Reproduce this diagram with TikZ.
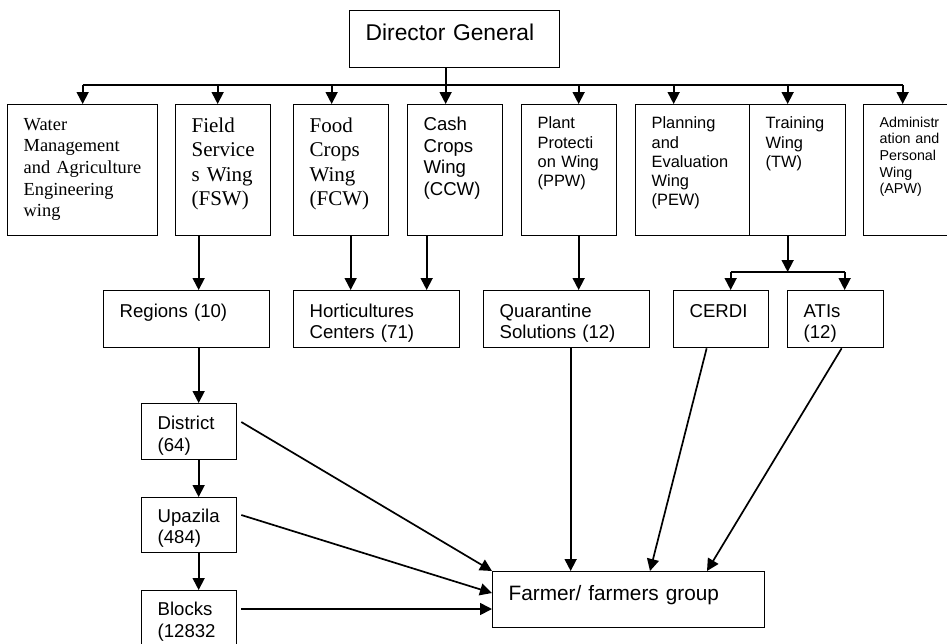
\documentclass[tikz,border=0pt]{standalone}
\usepackage{fontspec}
\setmainfont{Liberation Sans}
\newfontfamily\timesfont{Liberation Serif}
\usetikzlibrary{arrows.meta}
\hyphenpenalty=10000

\begin{document}
\begin{tikzpicture}[x=1pt, y=-1pt,
    wingbox/.style n args={3}{draw, line width=1.3pt, anchor=north west, inner xsep=16pt, inner ysep=0pt, align=left, text width=#1, text height=#2, text depth=#3},
    arr/.style={line width=1.7pt, -{Triangle[length=12pt,width=12pt]}},
    link/.style={line width=1.7pt},
    dgfont/.style={font=\fontsize{22.8pt}{26pt}\selectfont},
    serifsmall/.style={font=\timesfont\fontsize{18.4pt}{21.7pt}\selectfont},
    serifbig/.style={font=\timesfont\fontsize{21pt}{24.4pt}\selectfont},
    sansmid/.style={font=\fontsize{18.6pt}{21.5pt}\selectfont},
    sanssmall/.style={font=\fontsize{16.4pt}{19.2pt}\selectfont},
    sanstiny/.style={font=\fontsize{14.3pt}{16.6pt}\selectfont},
    sansbig/.style={font=\fontsize{20.8pt}{24pt}\selectfont}]
    \useasboundingbox (0,0) rectangle (947,643);
    \coordinate (bus) at (0,85);
    \coordinate (fork) at (0,272);
    % top
    \node[wingbox={178pt}{30pt}{27pt}, dgfont] (dg) at (349,10) {Director General};
    % wings
    \node[wingbox={118pt}{25.5pt}{105.5pt}, serifsmall] (water) at (7,104) {Water\\Management\\and Agriculture\\Engineering\\wing};
    \node[wingbox={63pt}{27.7pt}{103.3pt}, serifbig] (field) at (175,104) {Field\\Service\\s Wing\\(FSW)};
    \node[wingbox={63pt}{27.7pt}{103.3pt}, serifbig] (food) at (293,104) {Food\\Crops\\Wing\\(FCW)};
    \node[wingbox={63pt}{26pt}{105pt}, sansmid] (cash) at (407,104) {Cash\\Crops\\Wing\\(CCW)};
    \node[wingbox={63pt}{24.3pt}{106.7pt}, sanssmall] (plant) at (521,104) {Plant\\Protecti\\on Wing\\(PPW)};
    \node[wingbox={82pt}{24.3pt}{106.7pt}, sanssmall] (plan) at (635,104) {Planning\\and\\Evaluation\\Wing\\(PEW)};
    \node[wingbox={64pt}{24.3pt}{106.7pt}, sanssmall] (train) at (749,104) {Training\\Wing\\(TW)};
    \node[wingbox={63pt}{22.7pt}{108.3pt}, sanstiny] (admin) at (863,104) {Administr\\ation and\\Personal\\Wing\\(APW)};
    % second row
    \node[wingbox={134pt}{26.7pt}{30.3pt}, sansmid] (regions) at (103,290) {Regions (10)};
    \node[wingbox={134pt}{26.7pt}{30.3pt}, sansmid] (hort) at (293,290) {Horticultures\\Centers (71)};
    \node[wingbox={134pt}{26.7pt}{30.3pt}, sansmid] (quar) at (483,290) {Quarantine\\Solutions (12)};
    \node[wingbox={63pt}{26.7pt}{30.3pt}, sansmid] (cerdi) at (673,290) {CERDI};
    \node[wingbox={64pt}{26.7pt}{30.3pt}, sansmid] (atis) at (787,290) {ATIs\\(12)};
    % field levels
    \node[wingbox={63pt}{26pt}{30pt}, sansmid] (district) at (141,403) {District\\(64)};
    \node[wingbox={63pt}{24.7pt}{30.3pt}, sansmid] (upazila) at (141,497) {Upazila\\(484)};
    \node[wingbox={63pt}{25pt}{45pt}, sansmid] (blocks) at (141,590) {Blocks\\(12832};
    \node[wingbox={240pt}{29pt}{27pt}, sansbig] (farmer) at (492,571) {Farmer/ farmers group};
    % director general to wings
    \draw[link] (water.north |- bus) -- ([xshift=-8.5pt]admin.north |- bus);
    \draw[arr] ([xshift=-9.5pt]cash.north |- dg.south) -- ([xshift=-9.5pt]cash.north);
    \draw[arr] (water.north |- bus) -- (water.north);
    \draw[arr] ([xshift=-5.5pt]field.north |- bus) -- ([xshift=-5.5pt]field.north);
    \draw[arr] ([xshift=-9.5pt]food.north |- bus) -- ([xshift=-9.5pt]food.north);
    \draw[arr] ([xshift=9.5pt]plant.north |- bus) -- ([xshift=9.5pt]plant.north);
    \draw[arr] ([xshift=-19pt]plan.north |- bus) -- ([xshift=-19pt]plan.north);
    \draw[arr] ([xshift=-10pt]train.north |- bus) -- ([xshift=-10pt]train.north);
    \draw[arr] ([xshift=-8.5pt]admin.north |- bus) -- ([xshift=-8.5pt]admin.north);
    % wings to second row
    \draw[arr] ([xshift=-24.5pt]field.south) -- ([xshift=-24.5pt]field.south |- regions.north);
    \draw[arr] ([xshift=9.5pt]food.south) -- ([xshift=9.5pt]food.south |- hort.north);
    \draw[arr] ([xshift=-28.5pt]cash.south) -- ([xshift=-28.5pt]cash.south |- hort.north);
    \draw[arr] ([xshift=9.5pt]plant.south) -- ([xshift=9.5pt]plant.south |- quar.north);
    \draw[arr] ([xshift=-10pt]train.south) -- ([xshift=-10pt]train.south |- fork);
    \draw[link] ([xshift=9.5pt]cerdi.north |- fork) -- ([xshift=9pt]atis.north |- fork);
    \draw[arr] ([xshift=9.5pt]cerdi.north |- fork) -- ([xshift=9.5pt]cerdi.north);
    \draw[arr] ([xshift=9pt]atis.north |- fork) -- ([xshift=9pt]atis.north);
    % regions down
    \draw[arr] ([xshift=9.5pt]district.north |- regions.south) -- ([xshift=9.5pt]district.north);
    \draw[arr] ([xshift=9.5pt]district.south) -- ([xshift=9.5pt]upazila.north);
    \draw[arr] ([xshift=9.5pt]upazila.south) -- ([xshift=9.5pt]blocks.north);
    % to farmers
    \draw[arr] ([shift={(4pt,-19pt)}]district.north east) -- (farmer.north west);
    \draw[arr] ([shift={(4pt,-18pt)}]upazila.north east) -- ([yshift=-22pt]farmer.north west);
    \draw[arr] ([shift={(4pt,-19pt)}]blocks.north east) -- ([yshift=-38pt]farmer.north west);
    \draw[arr] ([xshift=4pt]quar.south) -- ([xshift=4pt]quar.south |- farmer.north);
    \draw[arr] ([xshift=-14.5pt]cerdi.south) -- ([xshift=158pt]farmer.north west);
    \draw[arr] ([xshift=6pt]atis.south) -- ([xshift=215pt]farmer.north west);
\end{tikzpicture}
\end{document}
